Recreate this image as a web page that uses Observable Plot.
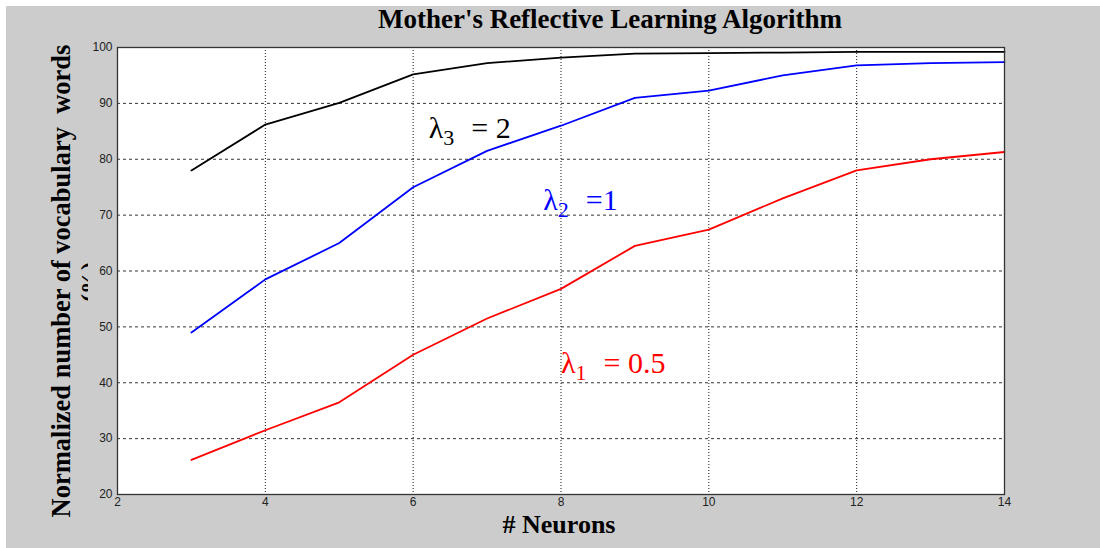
<!DOCTYPE html>
<html><head><meta charset="utf-8">
<script src="https://cdn.jsdelivr.net/npm/d3@7"></script>
<script src="https://cdn.jsdelivr.net/npm/@observablehq/plot@0.6"></script>
<style>
html,body{margin:0;padding:0;background:#fff;}
#bg{position:absolute;left:6px;top:6px;width:1094px;height:542px;background:#cccccc;}
#chart{position:absolute;left:0;top:0;}
</style></head><body><div id="bg"></div><div id="chart"></div>
<script>
const neurons = [3,4,5,6,7,8,9,10,11,12,13,14];
const lambda1 = [26.2,31.5,36.5,45.0,51.5,56.8,64.5,67.4,73.0,78.0,80.0,81.3];
const lambda2 = [49.0,58.5,65.0,75.0,81.5,86.0,91.0,92.3,95.0,96.8,97.2,97.4];
const lambda3 = [78.0,86.2,90.1,95.2,97.2,98.2,98.9,99.0,99.1,99.2,99.2,99.2];
const seriesNames = ["λ1 = 0.5","λ2 = 1","λ3 = 2"];
const seriesColors = ["red","blue","black"];
const xTicks = [2,4,6,8,10,12,14];
const yTicks = [20,30,40,50,60,70,80,90,100];
const labelX = [8.0, 7.76, 6.21];
const labelY = [43.4, 72.6, 85.6];
const labelSub = ["1","2","3"];
const labelRest = ["= 0.5","=1","= 2"];
const titleText = "Mother's Reflective Learning Algorithm";
const xLabel = "# Neurons";
const yLabel = "Normalized number of vocabulary  words";
const yLabel2 = "(%)";

const rows = [];
[lambda1, lambda2, lambda3].forEach((s, k) => s.forEach((v, i) => rows.push({n: neurons[i], v, series: seriesNames[k]})));
const labels = labelX.map((x, i) => ({x, y: labelY[i], series: seriesNames[i], sub: labelSub[i], rest: labelRest[i]}));

const chart = Plot.plot({
  width: 1100, height: 548,
  marginLeft: 117, marginRight: 96, marginTop: 47, marginBottom: 54,
  style: {background: "transparent", fontFamily: "'Liberation Sans', Arial, sans-serif", fontSize: "12px", color: "#222"},
  x: {domain: [2, 14], ticks: xTicks, label: null},
  y: {domain: [20, 100], ticks: yTicks, label: null},
  color: {domain: seriesNames, range: seriesColors},
  marks: [
    Plot.frame({fill: "white", stroke: null}),
    Plot.gridY(yTicks, {stroke: "#000", strokeOpacity: 0.8, strokeDasharray: "3,3"}),
    Plot.gridX(xTicks, {stroke: "#000", strokeOpacity: 0.9, strokeDasharray: "1,2"}),
    Plot.line(rows, {x: "n", y: "v", z: "series", stroke: "series", strokeWidth: 1.8}),
    Plot.axisY(yTicks, {tickSize: 0, tickPadding: 5, fontSize: 12, fill: "#222", tickFormat: d => d, label: null}),
    Plot.axisX(xTicks, {tickSize: 0, tickPadding: 3, fontSize: 12, fill: "#222", tickFormat: d => d, label: null}),
    Plot.frame({stroke: "#333", strokeWidth: 1.3}),
    Plot.text(labels, {x: "x", y: "y", text: "series", fill: "series", textAnchor: "start",
      fontFamily: "'Liberation Serif', 'Times New Roman', serif", fontSize: 30, className: "lam"})
  ]
});

// rebuild lambda labels with subscript tspans
d3.select(chart).selectAll(".lam text").each(function(d, i) {
  const t = d3.select(this);
  const L = labels[i];
  t.text(null).attr("dy", null);
  t.append("tspan").text("λ");
  t.append("tspan").attr("font-size", 22).attr("dy", 7).text(L.sub);
  t.append("tspan").attr("dy", -7).attr("dx", 17).text(L.rest);
});

const svg = d3.select(chart);
const serif = "'Liberation Serif', 'Times New Roman', serif";
svg.append("text").attr("x", 610).attr("y", 28).attr("text-anchor", "middle")
  .attr("font-family", serif).attr("font-weight", "bold").attr("font-size", 27).attr("fill", "#000").text(titleText);
svg.append("text").attr("x", 559).attr("y", 533).attr("text-anchor", "middle")
  .attr("font-family", serif).attr("font-weight", "bold").attr("font-size", 26).attr("fill", "#000").text(xLabel);
svg.append("text").attr("transform", "translate(70,281) rotate(-90)").attr("text-anchor", "middle")
  .attr("font-family", serif).attr("font-weight", "bold").attr("font-size", 26.5).attr("fill", "#000")
  .attr("xml:space", "preserve").style("white-space", "pre").text(yLabel);
const defs = svg.append("defs");
defs.append("clipPath").attr("id", "pclip").append("rect").attr("x", 0).attr("y", 0).attr("width", 88).attr("height", 548);
svg.append("g").attr("clip-path", "url(#pclip)").append("text")
  .attr("transform", "translate(97,282) rotate(-90)").attr("text-anchor", "middle")
  .attr("font-family", serif).attr("font-weight", "bold").attr("font-size", 24).attr("fill", "#000").text(yLabel2);

document.getElementById("chart").appendChild(chart);
</script></body></html>
